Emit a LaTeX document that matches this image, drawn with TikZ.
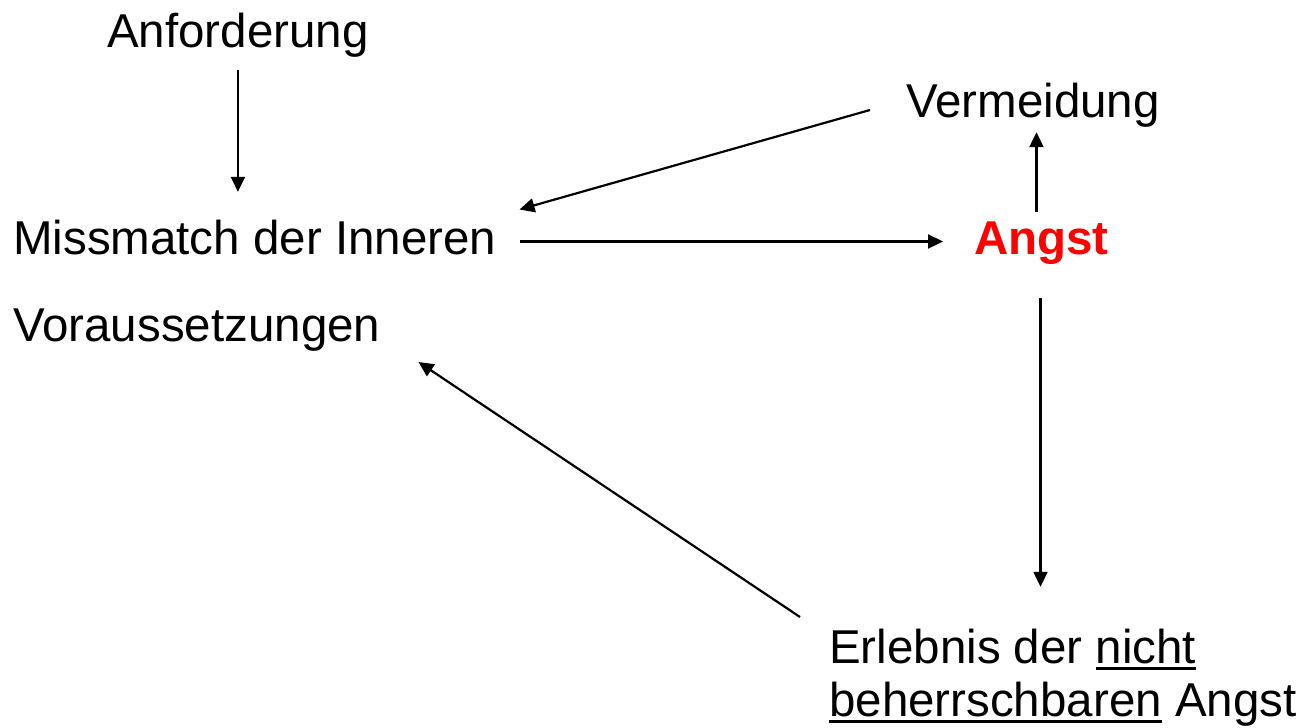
\documentclass[tikz,border=0pt]{standalone}
\usepackage{fontspec}
\setmainfont{Liberation Sans}
\usetikzlibrary{arrows.meta,calc}
% underline drawn as a rule just below the baseline
\newcommand\undl[1]{\setbox0\hbox{#1}\rlap{\rule[-7pt]{\wd0}{2.6pt}}\box0\relax}
\tikzset{
  lbl/.style={anchor=base west, inner sep=0pt, text height=35pt, text depth=10pt,
              font=\fontsize{47.5}{57}\selectfont},
  arr/.style={line width=2.2pt, -{Triangle[length=15pt,width=14pt]}}
}
\begin{document}
\begin{tikzpicture}[x=1pt,y=-1pt]
\useasboundingbox[fill=white] (0,0) rectangle (1302,728);

\node[lbl] (anf)   at (107,47)  {Anforderung};
\node[lbl] (verm)  at (906,117) {Vermeidung};
\node[lbl] (miss)  at (13,254)  {Missmatch der Inneren};
\node[lbl, text=red, font=\fontsize{47.5}{57}\selectfont\bfseries] (angst) at (974,254) {Angst};
\node[lbl] (vor)   at (13,341)  {Voraussetzungen};
\node[lbl] (erl1)  at (829,663) {Erlebnis der \undl{nicht}};
\node[lbl] (erl2)  at (829,716) {\undl{beherrschbaren} Angst};

\draw[arr] ($(anf.south)+(0,13)$) -- ($(anf.south |- miss.north)+(0,-27)$);
\draw[arr] ($(verm.west)+(-36,5.5)$) -- ($(miss.east)+(23,-32)$);
\draw[arr] ($(miss.east)+(23,0)$) -- ($(angst.west)+(-31,0)$);
\draw[arr] ($(angst.north)+(-5,-7)$) -- ($(angst.north |- verm.south)+(-5,5)$);
\draw[arr] ($(angst.south)+(-1,34)$) -- ($(angst.south |- erl1.north)+(-1,-41)$);
\draw[arr] ($(erl1.west)+(-29,-33.5)$) -- ($(vor.east)+(38,33.5)$);
\end{tikzpicture}
\end{document}
